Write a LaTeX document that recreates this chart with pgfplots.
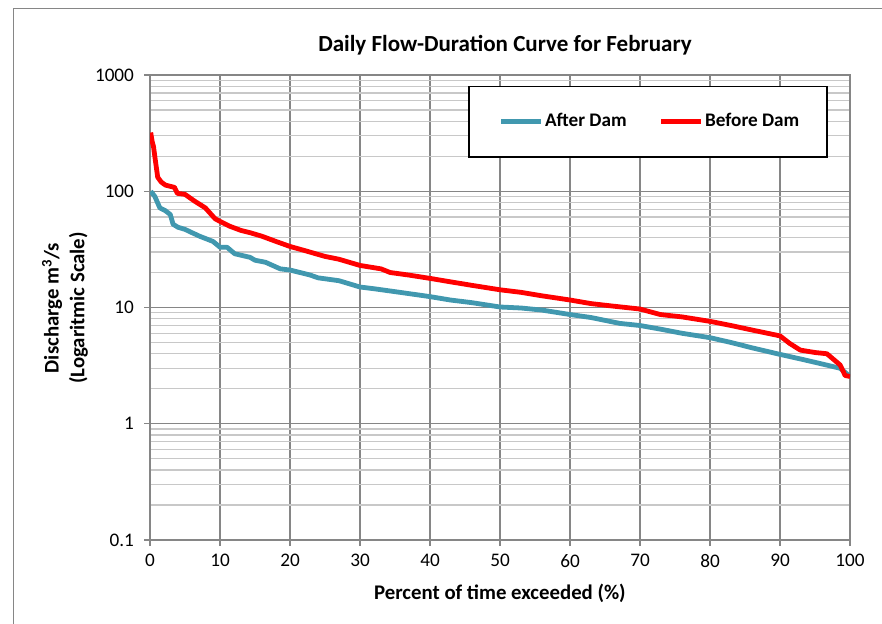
\documentclass[border=0pt]{standalone}
\usepackage{fontspec}
\setmainfont{Carlito}
\usepackage{pgfplots}
\pgfplotsset{compat=1.18}
\definecolor{afterdam}{RGB}{65,152,175}
\definecolor{majgrid}{RGB}{134,134,134}
\definecolor{mingrid}{RGB}{200,200,200}

\begin{document}
\begin{tikzpicture}[x=0.625pt,y=0.625pt]
\useasboundingbox (0,0) rectangle (882,624);
\draw[majgrid, line width=0.6pt] (13,0) -- (13,616) -- (882,616);
\node[font=\bfseries\fontsize{14.4}{17}\selectfont] at (505,579) {Daily Flow-Duration Curve for February};
\node[font=\bfseries\fontsize{13}{15}\selectfont] at (500,31) {Percent of time exceeded (\%)};
\node[font=\bfseries\fontsize{13}{16}\selectfont, rotate=90, align=center] at (65,316) {Discharge m\textsuperscript{3}/s\\(Logaritmic Scale)};
\begin{axis}[
    at={(93.75pt,52.5pt)}, anchor=south west,
    scale only axis, width=437.5pt, height=290.625pt,
    ymode=log, xmin=0, xmax=100, ymin=0.1, ymax=1000,
    xtick={0,10,20,30,40,50,60,70,80,90,100},
    xticklabels={0,10,20,30,40,50,60,70,80,90,100},
    ytick={0.1,1,10,100,1000},
    yticklabels={0.1,1,10,100,1000},
    minor ytick={0.2,0.3,0.4,0.5,0.6,0.7,0.8,0.9,2,3,4,5,6,7,8,9,20,30,40,50,60,70,80,90,200,300,400,500,600,700,800,900},
    grid=both,
    major grid style={majgrid, line width=0.75pt},
    minor grid style={mingrid, line width=0.75pt},
    axis line style={majgrid, line width=0.75pt},
    tick style={majgrid, line width=0.75pt},
    tick align=outside, major tick length=3.5pt, minor tick length=0pt,
    xtick pos=left, ytick pos=left,
    ticklabel style={font=\fontsize{12}{14}\selectfont, text=black},
    yticklabel style={xshift=-3pt},
    xticklabel style={yshift=-2pt},
    legend columns=2,
    legend style={draw=none, fill=none, at={(axis description cs:0.714,0.900)}, anchor=center,
        font=\bfseries\fontsize{12}{14}\selectfont,
        nodes={inner xsep=1pt},
        /tikz/every even column/.append style={column sep=19pt}},
    legend image code/.code={\draw[#1, line width=3pt] (0pt,0pt) -- (25pt,0pt);},
]
\draw[black, fill=white, line width=0.75pt] (axis description cs:0.4557,0.8237) rectangle (axis description cs:0.967,0.976);
\addplot[afterdam, line width=3pt, line join=round] coordinates {
(0.1,100) (0.7,90) (1.4,72) (2.2,68) (2.9,63) (3.3,52) (4,49) (5,47) (6,44) (7.1,41)
(9,37) (10,33) (11,33) (12.1,29) (14.3,27) (15,25.5) (16.5,24.5) (18.6,21.5) (20,21)
(22.9,19) (24,18) (27,17) (30,15) (32,14.5) (35.7,13.5) (40,12.4) (42.9,11.6) (46,11)
(50,10.1) (53,9.9) (56,9.5) (60,8.7) (63,8.2) (67.1,7.3) (70,7.0) (73,6.5) (76,6.0)
(80,5.5) (83,5.0) (86,4.5) (90,3.95) (93,3.6) (95.7,3.3) (98.6,3.0) (100,2.55)
};
\addlegendentry{After Dam}
\addplot[red, line width=3pt, line join=round] coordinates {
(0.1,320) (0.3,270) (0.5,242) (0.8,178) (1.1,132) (1.6,120) (2.2,113) (3.5,108) (3.9,96)
(5.0,94) (6.4,82) (7.9,72) (9.3,58) (10,55) (11.4,50) (13,46) (14.3,44) (16,41) (18,37)
(20,33.5) (22,31) (25,27.5) (27,26) (30,23) (33,21.5) (34.3,20) (37,19) (40,17.8)
(43,16.6) (46,15.5) (50,14.2) (53,13.5) (56,12.6) (60,11.6) (63,10.8) (66,10.3) (70,9.7)
(72.9,8.7) (76,8.3) (80,7.6) (83,7) (86,6.4) (90,5.7) (91.4,4.9) (92.9,4.3) (95,4.1)
(96.7,4.0) (98.6,3.2) (99.3,2.6) (100,2.55)
};
\addlegendentry{Before Dam}
\end{axis}
\end{tikzpicture}
\end{document}
